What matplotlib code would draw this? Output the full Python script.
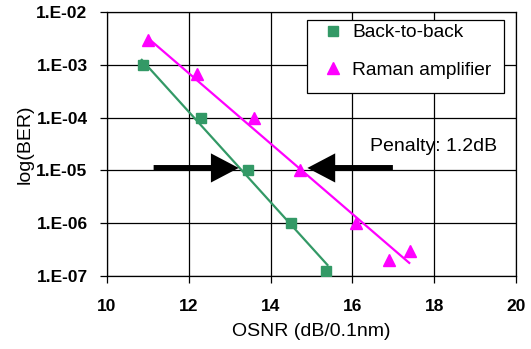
import matplotlib
matplotlib.use("Agg")
import matplotlib.pyplot as plt
from matplotlib.ticker import FixedLocator, FixedFormatter
from matplotlib.patches import Rectangle

plt.rcParams['font.family'] = ['Liberation Sans', 'DejaVu Sans']

# Data
b2b_x = [10.87, 12.30, 13.45, 14.49, 15.35]
b2b_y = [1e-3, 1e-4, 1e-5, 1e-6, 1.25e-7]
raman_x = [11.01, 12.19, 13.59, 14.72, 16.10, 16.90, 17.41]
raman_y = [3.0e-3, 6.7e-4, 1.0e-4, 1.0e-5, 1.0e-6, 2.0e-7, 3.0e-7]

# Trend lines (endpoints)
b2b_fit_x = [10.85, 15.39]
b2b_fit_y = [1.25e-3, 1.6e-7]
raman_fit_x = [11.03, 17.39]
raman_fit_y = [3.1e-3, 1.75e-7]

# Penalty arrows
arrow_y = 1.11e-5
left_arrow_x = [11.14, 13.22]   # tail, tip
right_arrow_x = [16.99, 14.90]  # tail, tip
penalty_text = "Penalty: 1.2dB"

x_ticks = [10, 12, 14, 16, 18, 20]
y_ticks = [1e-7, 1e-6, 1e-5, 1e-4, 1e-3, 1e-2]
y_tick_labels = ["1.E-07", "1.E-06", "1.E-05", "1.E-04", "1.E-03", "1.E-02"]

green = "#339966"
magenta = "#FF00FF"

fig = plt.figure(figsize=(5.31, 3.49), dpi=100)
ax = fig.add_axes([107/531, 1-275.7/349, (516-107)/531, (275.7-12.3)/349])

ax.set_yscale('log')
ax.set_xlim(10, 20)
ax.set_ylim(1e-7, 1e-2)

ax.plot(b2b_fit_x, b2b_fit_y, color=green, lw=1.6, zorder=3)
ax.plot(raman_fit_x, raman_fit_y, color=magenta, lw=1.6, zorder=3)
ax.plot(b2b_x, b2b_y, ls='none', marker='s', ms=7.5, color=green, mec=green,
        label="Back-to-back", zorder=4)
ax.plot(raman_x, raman_y, ls='none', marker='^', ms=9, color=magenta, mec=magenta,
        label="Raman amplifier", zorder=4)

arrow_kw = dict(arrowstyle='simple,head_width=2.1,head_length=2.0,tail_width=0.42',
                color='black', lw=0, shrinkA=0, shrinkB=0, mutation_scale=10)
ax.annotate('', xy=(left_arrow_x[1], arrow_y), xytext=(left_arrow_x[0], arrow_y),
            arrowprops=arrow_kw, zorder=5)
ax.annotate('', xy=(right_arrow_x[1], arrow_y), xytext=(right_arrow_x[0], arrow_y),
            arrowprops=arrow_kw, zorder=5)

ax.text(16.43, 2.37e-5, penalty_text, fontsize=14, va='baseline', ha='left')

ax.xaxis.set_major_locator(FixedLocator(x_ticks))
ax.yaxis.set_major_locator(FixedLocator(y_ticks))
ax.yaxis.set_major_formatter(FixedFormatter(y_tick_labels))
ax.yaxis.set_minor_locator(FixedLocator([]))
ax.grid(True, which='major', color='black', lw=0.9)
ax.set_axisbelow(True)
for s in ax.spines.values():
    s.set_color('black')
    s.set_linewidth(0.9)
ax.tick_params(axis='both', which='major', direction='out', length=5, width=0.9,
               color='black', labelsize=12.5)
ax.tick_params(axis='x', pad=12)
ax.tick_params(axis='y', pad=9)
for lab in ax.get_xticklabels() + ax.get_yticklabels():
    lab.set_fontweight('bold')

ax.set_xlabel("OSNR (dB/0.1nm)", fontsize=14, labelpad=6)
ax.set_ylabel("log(BER)", fontsize=14, labelpad=2)

# Legend frame
frame = Rectangle((0.488, 0.695), 0.971 - 0.488, 0.971 - 0.695, transform=ax.transAxes,
                  facecolor='white', edgecolor='black', lw=0.9, zorder=6)
ax.add_patch(frame)
leg = ax.legend(loc='center left', bbox_to_anchor=(0.5296, 0.8517), borderaxespad=0,
                borderpad=0, fontsize=13.8, frameon=False, handlelength=1.0,
                handletextpad=0.5, labelspacing=1.05)
leg.set_zorder(7)

fig.savefig("out.png", dpi=100)
